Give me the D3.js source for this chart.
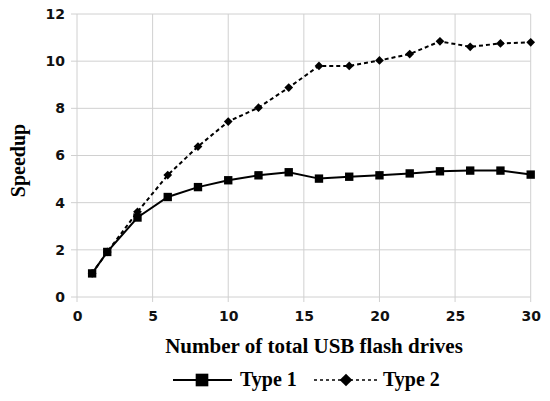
<!DOCTYPE html>
<html><head><meta charset="utf-8">
<script src="https://cdn.jsdelivr.net/npm/d3@7"></script>
<style>body{margin:0;background:#fff}svg{display:block}</style>
</head><body>
<svg id="c" width="550" height="401"></svg>
<script>
const xValues = [1,2,4,6,8,10,12,14,16,18,20,22,24,26,28,30];
const type1 = [1.0,1.91,3.37,4.24,4.66,4.95,5.16,5.29,5.02,5.10,5.16,5.24,5.33,5.36,5.36,5.19];
const type2 = [1.0,1.91,3.61,5.17,6.38,7.44,8.03,8.88,9.80,9.80,10.03,10.30,10.84,10.61,10.75,10.80];
const xTicks = [0,5,10,15,20,25,30];
const yTicks = [0,2,4,6,8,10,12];
const seriesNames = ["Type 1","Type 2"];

const svg = d3.select("#c");
const m = {l:77, r:20, t:14, b:104};
const W = 550, H = 401;
const x = d3.scaleLinear().domain([0,30]).range([m.l, W-m.r+0.7]);
const y = d3.scaleLinear().domain([0,12]).range([H-m.b, m.t]);
const grid = "#d0d0d0";
const tickFont = "'DejaVu Sans', sans-serif";
const serif = "'Liberation Serif', 'Times New Roman', serif";

// grid
svg.append("g").selectAll("line").data(yTicks).join("line")
  .attr("x1", m.l-6).attr("x2", x(30)).attr("y1", d=>y(d)).attr("y2", d=>y(d))
  .attr("stroke", grid).attr("stroke-width",1);
svg.append("g").selectAll("line").data(xTicks).join("line")
  .attr("x1", d=>x(d)).attr("x2", d=>x(d)).attr("y1", y(12)).attr("y2", y(0)+5)
  .attr("stroke", grid).attr("stroke-width",1);

// axes labels via d3 axes
const yAxis = svg.append("g").attr("transform",`translate(${m.l},0)`)
  .call(d3.axisLeft(y).tickValues(yTicks).tickSize(0).tickPadding(12));
yAxis.select(".domain").remove();
yAxis.selectAll("text").attr("font-family", tickFont).attr("font-weight","bold")
  .attr("font-size",14).attr("fill","#111");
const xAxis = svg.append("g").attr("transform",`translate(0,${y(0)})`)
  .call(d3.axisBottom(x).tickValues(xTicks).tickSize(0).tickPadding(14));
xAxis.select(".domain").remove();
xAxis.selectAll("text").attr("font-family", tickFont).attr("font-weight","bold")
  .attr("font-size",14).attr("fill","#111");

// lines
const line = d3.line().x((d,i)=>x(xValues[i])).y(d=>y(d));
svg.append("path").datum(type1).attr("d", line).attr("fill","none")
  .attr("stroke","#000").attr("stroke-width",2);
svg.append("path").datum(type2).attr("d", line).attr("fill","none")
  .attr("stroke","#000").attr("stroke-width",2).attr("stroke-dasharray","4,3");

const sq = d3.symbol().type(d3.symbolSquare).size(70);
const dm = d3.symbol().type(d3.symbolSquare).size(38);
svg.append("g").selectAll("path").data(type2).join("path")
  .attr("d", dm).attr("transform",(d,i)=>`translate(${x(xValues[i])},${y(d)}) rotate(45)`).attr("fill","#000");
svg.append("g").selectAll("path").data(type1).join("path")
  .attr("d", sq).attr("transform",(d,i)=>`translate(${x(xValues[i])},${y(d)})`).attr("fill","#000");

// titles
svg.append("text").attr("x", 314).attr("y", 353).attr("text-anchor","middle")
  .attr("font-family", serif).attr("font-weight","bold").attr("font-size",21).attr("fill","#000")
  .text("Number of total USB flash drives");
svg.append("text").attr("transform","translate(25,160.5) rotate(-90)").attr("text-anchor","middle")
  .attr("font-family", serif).attr("font-weight","bold").attr("font-size",20).attr("fill","#000")
  .text("Speedup");

// legend
const lg = svg.append("g");
lg.append("line").attr("x1",173).attr("x2",232).attr("y1",380).attr("y2",380).attr("stroke","#000").attr("stroke-width",2);
lg.append("path").attr("d", d3.symbol().type(d3.symbolSquare).size(160)).attr("transform","translate(202,380)");
lg.append("text").attr("x",240).attr("y",386).attr("font-family",serif).attr("font-weight","bold").attr("font-size",20).text(seriesNames[0]);
lg.append("line").attr("x1",314).attr("x2",378).attr("y1",380).attr("y2",380).attr("stroke","#000").attr("stroke-width",1.5).attr("stroke-dasharray","3,3");
lg.append("path").attr("d", d3.symbol().type(d3.symbolSquare).size(80)).attr("transform","translate(346,380) rotate(45)");
lg.append("text").attr("x",383).attr("y",386).attr("font-family",serif).attr("font-weight","bold").attr("font-size",20).text(seriesNames[1]);
</script>
</body></html>
